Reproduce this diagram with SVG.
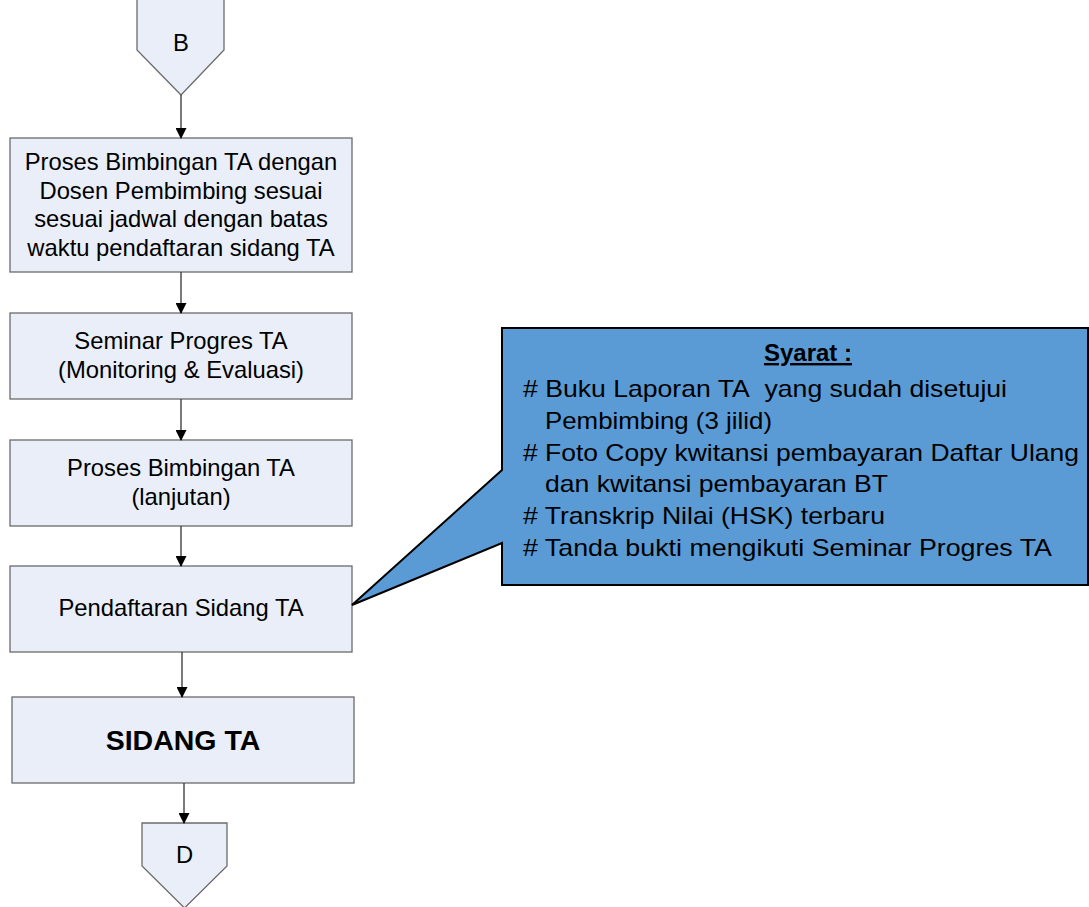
<svg xmlns="http://www.w3.org/2000/svg" width="1089" height="907" viewBox="0 0 1089 907">
<style>
.box{fill:#e9eef8;stroke:#6b6b6b;stroke-width:1.3}
.t{font-family:"Liberation Sans",Arial,sans-serif;font-size:23.8px;fill:#000;text-anchor:middle}
.c{font-family:"Liberation Sans",Arial,sans-serif;font-size:24px;fill:#000}
.ln{stroke:#333;stroke-width:1.3;fill:none}
</style>
<defs>
<marker id="ah" markerWidth="11" markerHeight="11" refX="10" refY="5.5" orient="auto" markerUnits="userSpaceOnUse">
<path d="M0,0 L11,5.5 L0,11 z" fill="#000"/>
</marker>
</defs>
<rect width="1089" height="907" fill="#fff"/>
<g id="nodeB">
<path class="box" d="M137,-1 L224,-1 L224,50 L181,95 L137,50 Z"/>
<text class="t" x="181" y="51">B</text>
</g>
<g id="node1">
<rect class="box" x="10" y="138" width="342" height="134"/>
<text class="t" x="181" y="170">Proses Bimbingan TA dengan</text>
<text class="t" x="181" y="198.5">Dosen Pembimbing sesuai</text>
<text class="t" x="181" y="227">sesuai jadwal dengan batas</text>
<text class="t" x="181" y="255.5">waktu pendaftaran sidang TA</text>
</g>
<g id="node2">
<rect class="box" x="10" y="313" width="342" height="86"/>
<text class="t" x="181" y="349">Seminar Progres TA</text>
<text class="t" x="181" y="378">(Monitoring &amp; Evaluasi)</text>
</g>
<g id="node3">
<rect class="box" x="10" y="440" width="342" height="86"/>
<text class="t" x="181" y="476">Proses Bimbingan TA</text>
<text class="t" x="181" y="505">(lanjutan)</text>
</g>
<g id="node4">
<rect class="box" x="10" y="566" width="342" height="86"/>
<text class="t" x="181" y="616">Pendaftaran Sidang TA</text>
</g>
<g id="node5">
<rect class="box" x="12" y="697" width="342" height="86"/>
<text class="t" x="183" y="750" style="font-weight:bold;font-size:28.5px">SIDANG TA</text>
</g>
<g id="nodeD">
<path class="box" d="M142,823 L227,823 L227,866 L184.5,908 L142,866 Z"/>
<text class="t" x="184.5" y="863">D</text>
</g>
<g id="callout">
<path d="M502,328 L1088,328 L1088,585 L502,585 L502,543 L352,605 L502,470 Z" fill="#5a9bd5" stroke="#000" stroke-width="2"/>
<text class="c" x="808" y="361" text-anchor="middle" font-weight="bold" text-decoration="underline">Syarat :</text>
<text class="c" x="523" y="397" textLength="484" lengthAdjust="spacingAndGlyphs"># Buku Laporan TA&#160; yang sudah disetujui</text>
<text class="c" x="545" y="429" textLength="227" lengthAdjust="spacingAndGlyphs">Pembimbing (3 jilid)</text>
<text class="c" x="523" y="461" textLength="556" lengthAdjust="spacingAndGlyphs"># Foto Copy kwitansi pembayaran Daftar Ulang</text>
<text class="c" x="545" y="492" textLength="343" lengthAdjust="spacingAndGlyphs">dan kwitansi pembayaran BT</text>
<text class="c" x="523" y="524" textLength="362" lengthAdjust="spacingAndGlyphs"># Transkrip Nilai (HSK) terbaru</text>
<text class="c" x="523" y="556" textLength="529" lengthAdjust="spacingAndGlyphs"># Tanda bukti mengikuti Seminar Progres TA</text>
</g>
<g id="connectors">
<line class="ln" x1="181" y1="95" x2="181" y2="138" marker-end="url(#ah)"/>
<line class="ln" x1="181" y1="272" x2="181" y2="313" marker-end="url(#ah)"/>
<line class="ln" x1="181" y1="399" x2="181" y2="440" marker-end="url(#ah)"/>
<line class="ln" x1="181" y1="526" x2="181" y2="566" marker-end="url(#ah)"/>
<line class="ln" x1="182" y1="652" x2="182" y2="697" marker-end="url(#ah)"/>
<line class="ln" x1="184" y1="783" x2="184" y2="823" marker-end="url(#ah)"/>
</g>
</svg>
